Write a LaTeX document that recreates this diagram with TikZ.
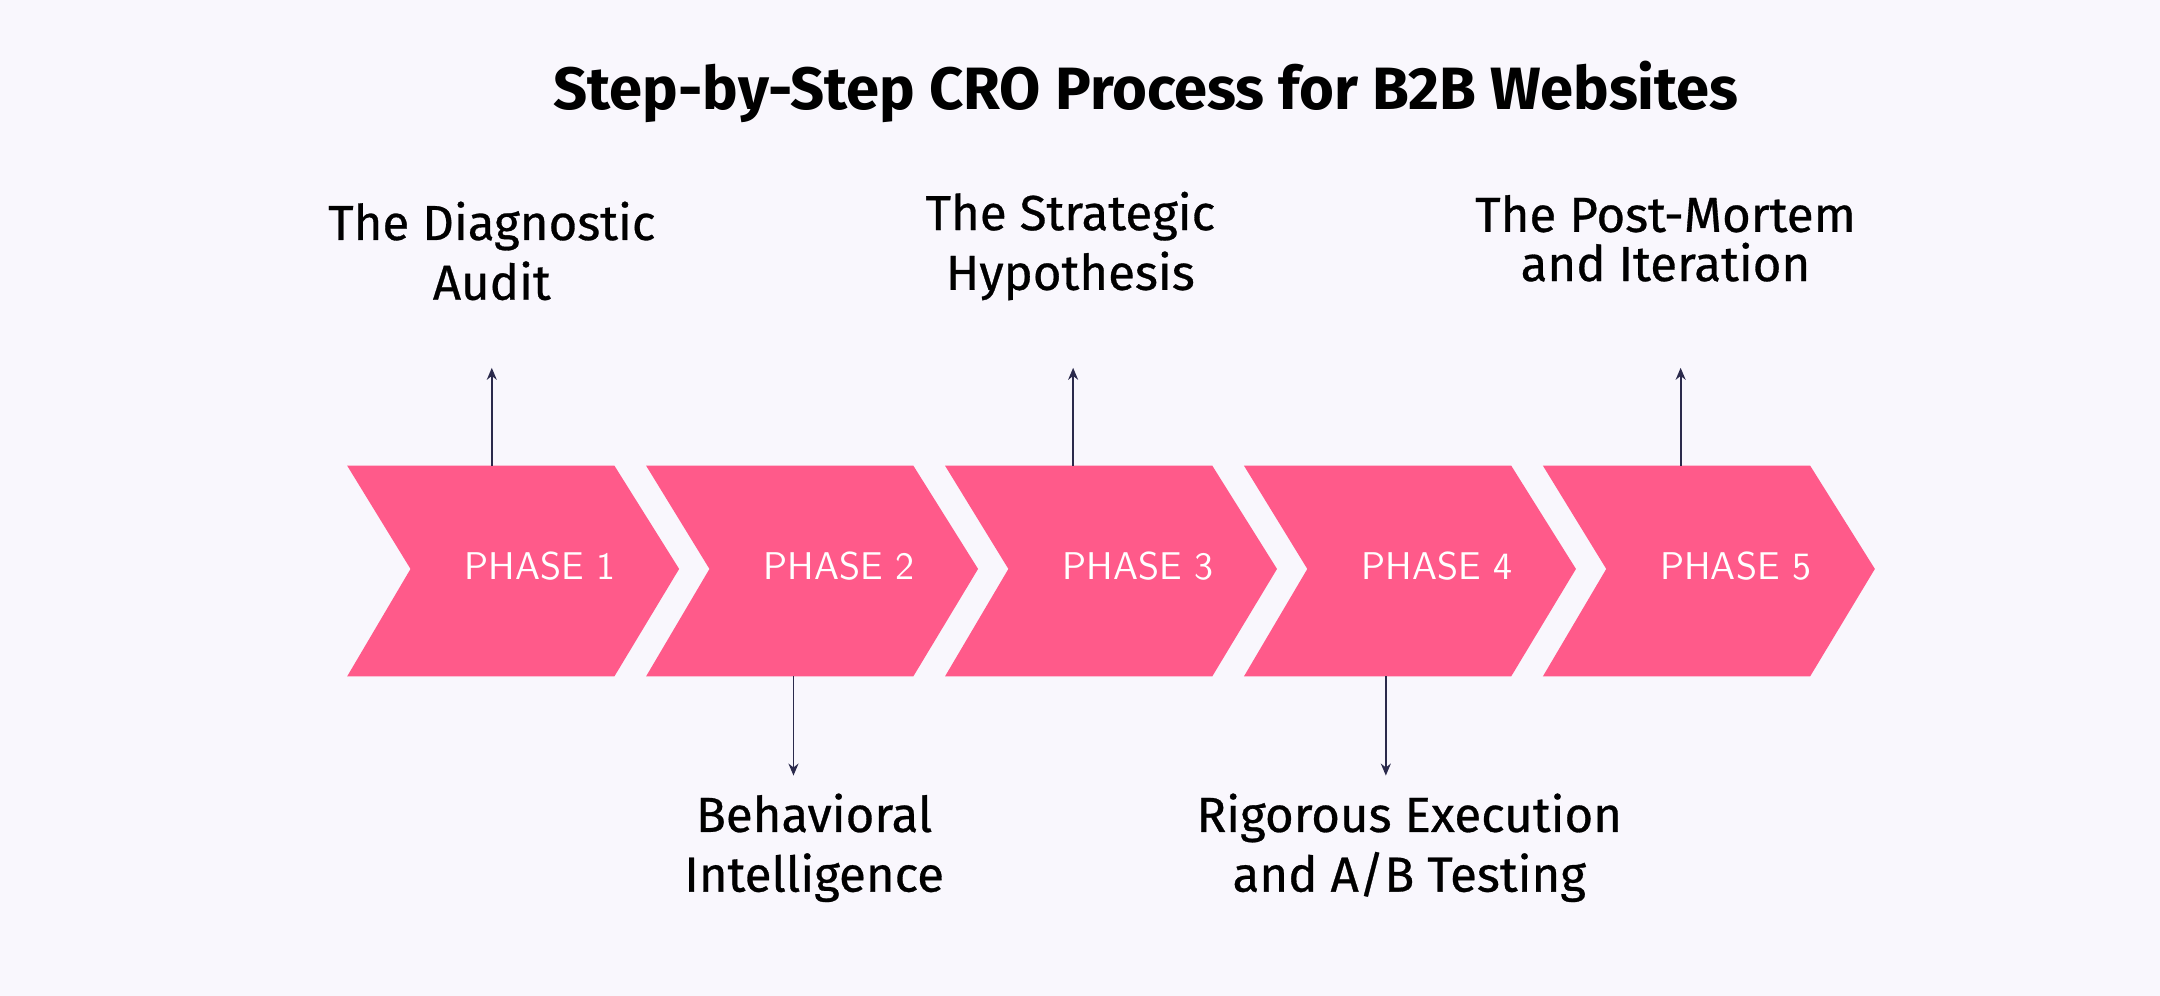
\documentclass[tikz,border=0pt]{standalone}
\usepackage{fontspec}
\setmainfont{Fira Sans}
\usetikzlibrary{arrows.meta, positioning, calc}
\definecolor{bgcol}{HTML}{F9F7FD}
\definecolor{chevcol}{HTML}{FF5A8A}
\definecolor{linecol}{HTML}{2B2A4C}
\tikzset{chev/.style = {
  fill=chevcol, draw=none
  }}
\tikzset{phase/.style = {
  text=white, font=\fontsize{11}{13}\selectfont\sffamily
  }}
\tikzset{label/.style = {
  align=center, text=black,
  font=\fontsize{14}{17}\selectfont\addfontfeature{FakeBold=0.6}
  }}
\tikzset{link/.style = {
  -{Stealth[length=1.2mm,width=1mm]},
  draw=linecol, line width=0.5pt
  }}

\begin{document}
\begin{tikzpicture}[x=0.013776cm, y=-0.013776cm]
% BACKGROUND
\fill[bgcol] (0,0) rectangle (1568,723);
\useasboundingbox (0,0) rectangle (1568,723);

% TITLE
\node (title) [font=\fontsize{17}{20}\selectfont\bfseries] at (832,67) {Step-by-Step CRO Process for B2B Websites};

% CHEVRONS
\foreach \i/\s in {1/252, 2/469, 3/686, 4/903, 5/1120} {
  \fill[chev] (\s,338) -- ++(194,0) -- ++(47,75) -- ++(-47,78) -- ++(-194,0) -- ++(46,-78) -- cycle;
  \node (p\i) [phase] at (\s+140,411) {PHASE \i};
  \coordinate (top\i) at (\s+105,338);
  \coordinate (bot\i) at (\s+107,491);
}
\coordinate (top3) at (779,338);
\coordinate (top5) at (1220,338);
\coordinate (bot4) at (1006,491);

% LABELS
\node (audit) [label, anchor=south] at (357,227) {The Diagnostic\\Audit};
\node (hypo) [label, anchor=south] at (777,227) {The Strategic\\Hypothesis};
\node (post) [label, anchor=south, text depth=0pt] at (1209,213) {The Post-Mortem\\[-3pt]and Iteration};
\node (behav) [label, anchor=north] at (591,567) {Behavioral\\Intelligence};
\node (exec) [label, anchor=north] at (1023,567) {Rigorous Execution\\and A/B Testing};

% arrows
\draw [link] (top1) -- ($(top1)+(0,-71)$);
\draw [link] (top3) -- ($(top3)+(0,-71)$);
\draw [link] (top5) -- ($(top5)+(0,-71)$);
\draw [link] (bot2) -- ($(bot2)+(0,72)$);
\draw [link] (bot4) -- ($(bot4)+(0,72)$);
\end{tikzpicture}
\end{document}
